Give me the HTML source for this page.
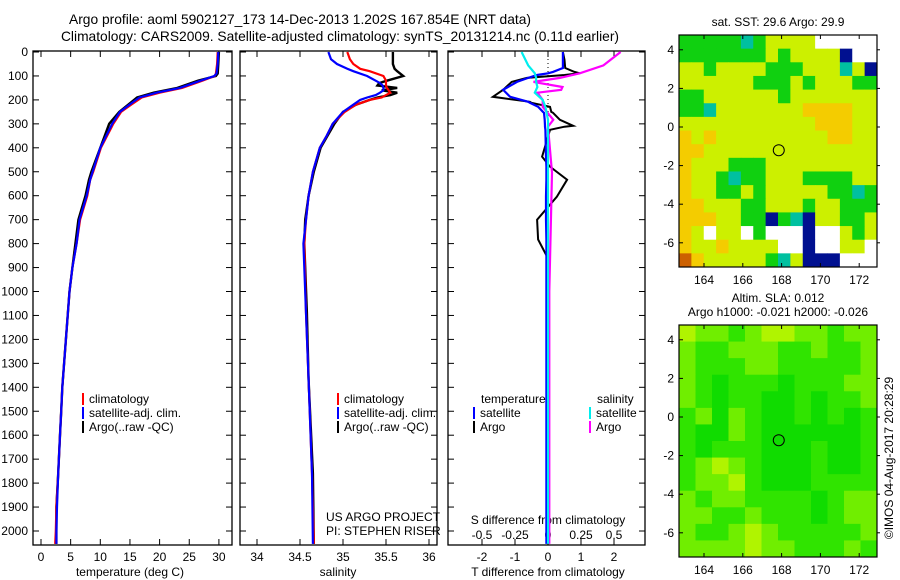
<!DOCTYPE html>
<html><head><meta charset="utf-8"><style>
body{margin:0;background:#fff;width:900px;height:580px;overflow:hidden}
svg{display:block;font-family:"Liberation Sans",sans-serif}
text{font-size:12px;fill:#000}
</style></head><body>
<svg id="chart" width="900" height="580" viewBox="0 0 900 580">
<text x="300" y="24" text-anchor="middle" style="font-size:13.8px">Argo profile: aoml 5902127_173 14-Dec-2013 1.202S 167.854E (NRT data)</text>
<text x="340" y="41" text-anchor="middle" style="font-size:13.8px">Climatology: CARS2009. Satellite-adjusted climatology: synTS_20131214.nc (0.11d earlier)</text>
</svg>
<script>
// ---- profile data ----
const depthT = [0,50,90,100,120,150,170,190,220,250,300,400,500,533,600,700,800,900,1000,1100,1200,1300,1400,1500,1600,1760,1900,2000,2054];
const tempClim = [29.8,29.7,29.5,29.3,27.2,23.8,20.0,17.0,15.2,13.5,12.2,10.1,8.8,8.3,7.8,6.6,6.0,5.3,4.8,4.5,4.2,3.9,3.6,3.4,3.2,2.9,2.6,2.5,2.4];
const tempSat  = [29.9,29.8,29.6,29.2,26.9,23.4,19.5,16.6,14.9,13.3,12.0,10.0,8.7,8.3,7.7,6.5,6.0,5.3,4.8,4.5,4.2,3.9,3.6,3.4,3.2,2.9,2.7,2.6,2.6];
const tempArgo = [30.0,29.9,29.8,29.5,26.5,23.0,19.0,16.2,14.7,13.2,11.5,10.0,8.5,8.1,7.5,6.3,5.8,5.3,4.8,4.5,4.2,3.9,3.6,3.4,3.2,2.9,2.6,2.6,2.6];
const depthS = [0,30,50,70,80,100,120,130,140,150,160,170,180,190,200,220,250,300,350,400,500,600,700,800,1090,1370,1760,2054];
const salClim = [35.05,35.08,35.12,35.2,35.31,35.47,35.5,35.5,35.5,35.51,35.53,35.55,35.5,35.45,35.31,35.15,35.02,34.88,34.81,34.73,34.65,34.6,34.57,34.55,34.57,34.6,34.64,34.66];
const salSat  = [34.83,34.86,34.93,35.05,35.12,35.28,35.38,35.43,35.46,35.47,35.47,35.43,35.38,35.28,35.2,35.12,35.0,34.88,34.81,34.73,34.65,34.6,34.57,34.54,34.57,34.6,34.64,34.65];
const salArgo = [35.58,35.58,35.58,35.6,35.63,35.7,35.51,35.42,35.4,35.63,35.45,35.63,35.55,35.4,35.31,35.15,35.0,34.9,34.82,34.74,34.66,34.6,34.56,34.55,34.58,34.6,34.65,34.66];
const depthTd = [0,33,67,83,89,96,108,125,158,187,208,212,229,250,254,283,308,312,325,437,479,533,604,700,783,854,1000,1500,2054];
const tdiffSat  = [0.45,0.45,0.45,0.15,0.0,-0.33,-0.6,-0.94,-1.36,-1.15,-0.6,-0.55,-0.3,-0.15,-0.12,-0.1,-0.09,-0.09,-0.08,-0.06,-0.05,-0.05,-0.06,-0.06,-0.05,-0.05,-0.05,-0.05,-0.05];
const tdiffArgo = [0.45,0.5,0.52,0.8,0.97,0.5,-0.64,-1.1,-1.36,-1.67,-0.55,-0.5,0.06,0.1,0.15,0.36,0.76,0.5,0.06,-0.18,0.06,0.58,0.27,-0.33,-0.3,-0.03,0.0,0.0,0.0];
const depthSd = [0,56,89,108,125,146,158,170,200,229,283,312,504,1000,2054];
const sdiffSat  = [-0.2,-0.15,-0.1,-0.09,-0.09,-0.08,-0.09,-0.1,-0.04,-0.02,0.0,0.0,0.0,0.0,0.0];
const sdiffArgo = [0.55,0.42,0.24,0.09,-0.11,0.11,0.1,-0.08,-0.04,-0.04,0.04,0.0,0.03,0.01,0.01];
const depthTicks = [0,100,200,300,400,500,600,700,800,900,1000,1100,1200,1300,1400,1500,1600,1700,1800,1900,2000];
const tempTicks = [0,5,10,15,20,25,30];
const salTicks = [34,34.5,35,35.5,36];
const tdTicks = [-2,-1,0,1,2];
const sdTicks = [-0.5,-0.25,0,0.25,0.5];
const sdTickLabels = ['-0.5','-0.25','0','0.25','0.5'];
// ---- map data (colour codes per cell, north to south) ----
const sstRows = [
"gggggGgyyyywwwww","gggggggygyyyybww","yygyyyygggyyyGyb","yyyyyygggygyyygg","ggyyyyyygyyyyyyy",
"ggGyyyyyyyooooyy","yyyyyyyyyyyoooyy","oyoyyyyyyyyyooyy","ooyyyyyyyyyyyyyy","oyyygggyyyyyyyyy",
"oyygGggyyyggggyy","oyyggygyyyyyggGg","ooyyyggyyygyyggg","oooyyggbgGbyyggy","oywyywgwwwbwwygy",
"oyyoyyyywwbwwyyw","royyyyygGybbbwww"];
const slaRows = [
"yllglyyllgll","lgglllgglggl","lgggllgggggl","lgGgggGgggll","lgGggGGgGggl",
"glGlgGGgGgGg","gGGlgGGGGGGg","gGgggGGGgGGg","glylgGGGgGGg","gllygGGGgggg",
"lgllggggGgll","llgglgggGgll","lgglylgggggl","llllyllggglg"];
const lonTicks = [164,166,168,170,172];
const latTicks = [4,2,0,-2,-4,-6];
const argoLon = 167.854, argoLat = -1.202;

const NS='http://www.w3.org/2000/svg';
const svg=document.getElementById('chart');
function mk(tag,attrs,parent){const e=document.createElementNS(NS,tag);for(const k in attrs)e.setAttribute(k,attrs[k]);(parent||svg).appendChild(e);return e;}
function txt(x,y,s,anchor,parent){const t=mk('text',{x:x,y:y,'text-anchor':anchor||'middle'},parent);t.textContent=s;return t;}
const Y0=51,Y1=545;
const yD=d=>52+d*0.2395;
const xT=v=>41+v*5.93;
const xS=v=>257+(v-34)*86;
const xTd=v=>548+v*33;
const xSd=v=>548+v*132;
const panels=[[33,232],[240,437],[448,645]];

function panelFrame(i,name){
  const [a,b]=panels[i];
  const g=mk('g',{});
  
  
  mk('rect',{x:a,y:Y0,width:b-a,height:Y1-Y0,fill:'none',stroke:'#000','stroke-width':1.3},g);
  depthTicks.forEach(d=>{const y=yD(d);
    mk('line',{x1:a,x2:a+6,y1:y,y2:y,stroke:'#000'},g);
    mk('line',{x1:b-6,x2:b,y1:y,y2:y,stroke:'#000'},g);});
  return g;
}
function line(xs,ds,fx,color,name,w){
  const p=xs.map((v,i)=>fx(v).toFixed(1)+','+yD(ds[i]).toFixed(1)).join(' ');
  const e=mk('polyline',{points:p,fill:'none',stroke:color,'stroke-width':w||2.2});
  
  
  return e;
}
// Panel 1
const p1=panelFrame(0,'temperature-panel');
depthTicks.forEach(d=>{const t=txt(28,yD(d)+4,String(d),'end');});
tempTicks.forEach(v=>{const x=xT(v);mk('line',{x1:x,x2:x,y1:Y1,y2:Y1-6,stroke:'#000'},p1);mk('line',{x1:x,x2:x,y1:Y0,y2:Y0+6,stroke:'#000'},p1);txt(x,561,String(v),'middle',p1);});
txt(130,576,'temperature (deg C)','middle',p1);
line(tempArgo,depthT,xT,'#000','temp-argo-line',2.4);
line(tempClim,depthT,xT,'#f00','temp-climatology-line');
line(tempSat,depthT,xT,'#00f','temp-satellite-line');
// Panel 2
const p2=panelFrame(1,'salinity-panel');
salTicks.forEach(v=>{const x=xS(v);mk('line',{x1:x,x2:x,y1:Y1,y2:Y1-6,stroke:'#000'},p2);mk('line',{x1:x,x2:x,y1:Y0,y2:Y0+6,stroke:'#000'},p2);txt(x,561,String(v),'middle',p2);});
txt(338,576,'salinity','middle',p2);
line(salArgo,depthS,xS,'#000','sal-argo-line',2.4);
line(salClim,depthS,xS,'#f00','sal-climatology-line');
line(salSat,depthS,xS,'#00f','sal-satellite-line');
txt(326,521,'US ARGO PROJECT','start',p2);
txt(326,535,'PI: STEPHEN RISER','start',p2);
// Panel 3
const p3=panelFrame(2,'difference-panel');
mk('line',{x1:548,x2:548,y1:Y0,y2:Y1,stroke:'#000','stroke-dasharray':'1,3'},p3);
tdTicks.forEach(v=>{const x=xTd(v);mk('line',{x1:x,x2:x,y1:Y1,y2:Y1-6,stroke:'#000'},p3);mk('line',{x1:x,x2:x,y1:Y0,y2:Y0+6,stroke:'#000'},p3);txt(x,561,String(v),'middle',p3);});
sdTicks.forEach((v,i)=>{txt(xSd(v),539,sdTickLabels[i],'middle',p3);});
txt(548,524,'S difference from climatology','middle',p3);
txt(548,576,'T difference from climatology','middle',p3);
line(tdiffArgo,depthTd,xTd,'#000','tdiff-argo-line',2);
line(sdiffArgo,depthSd,xSd,'#f0f','sdiff-argo-line',2.2);
line(tdiffSat,depthTd,xTd,'#00f','tdiff-satellite-line',2.2);
line(sdiffSat,depthSd,xSd,'#0ee','sdiff-satellite-line',2.2);
// legends
function legend(x,y,color,label,name){const g=mk('g',{});
  mk('rect',{x:x,y:y-10,width:2,height:12,fill:color},g);txt(x+7,y,label,'start',g);}
[[82,'temperature-legend'],[337,'salinity-legend']].forEach(([x,n])=>{
  legend(x,403,'#f00','climatology',n+'-climatology');
  legend(x,417,'#00f','satellite-adj. clim.',n+'-satellite');
  legend(x,431,'#000','Argo(..raw -QC)',n+'-argo');});
txt(481,403,'temperature','start');
txt(597,403,'salinity','start');
legend(473,417,'#00f','satellite','diff-legend-t-satellite');
legend(473,431,'#000','Argo','diff-legend-t-argo');
legend(589,417,'#0ee','satellite','diff-legend-s-satellite');
legend(589,431,'#f0f','Argo','diff-legend-s-argo');

// ---- maps ----
const MX0=679,MX1=877;
const lonX=l=>704+(l-164)*19.4;
const sstCol={g:'#10d010',G:'#00c0a0',y:'#ccf000',o:'#f4cc00',r:'#cc6000',b:'#001090',w:'#ffffff'};
const slaCol={g:'#30e400',G:'#10dc00',l:'#70ee00',y:'#b0f400'};
function map(top,bot,lat0Y,rows,cols,name,titleLines){
  const g=mk('g',{});
  const latY=l=>lat0Y-l*19.3;
  const nr=rows.length,nc=rows[0].length,cw=(MX1-MX0)/nc,ch=(bot-top)/nr;
  rows.forEach((r,i)=>{for(let j=0;j<nc;j++){
    const c=mk('rect',{x:(MX0+j*cw).toFixed(2),y:(top+i*ch).toFixed(2),width:(cw+0.4).toFixed(2),height:(ch+0.4).toFixed(2),fill:cols[r[j]]||'#fff'},g);
    
    }});
  mk('rect',{x:MX0,y:top,width:MX1-MX0,height:bot-top,fill:'none',stroke:'#000','stroke-width':1.2},g);
  lonTicks.forEach(l=>{const x=lonX(l);mk('line',{x1:x,x2:x,y1:top,y2:top+4,stroke:'#000'},g);mk('line',{x1:x,x2:x,y1:bot,y2:bot-4,stroke:'#000'},g);txt(x,bot+17,String(l),'middle',g);});
  latTicks.forEach(l=>{const y=latY(l);mk('line',{x1:MX0,x2:MX0+4,y1:y,y2:y,stroke:'#000'},g);mk('line',{x1:MX1,x2:MX1+3,y1:y,y2:y,stroke:'#000'},g);txt(674,y+4,String(l),'end',g);});
  const c=mk('circle',{cx:lonX(argoLon),cy:latY(argoLat),r:5.5,fill:'none',stroke:'#000','stroke-width':1},g);
  
  
  titleLines.forEach(([s,y])=>txt(778,y,s,'middle',g));
}
map(35,267,127,sstRows,sstCol,'sst-map',[['sat. SST: 29.6 Argo: 29.9',26]]);
map(325,557,417,slaRows,slaCol,'sla-map',[['Altim. SLA: 0.012',302],['Argo h1000: -0.021 h2000: -0.026',316]]);
const cr=txt(0,0,'©IMOS 04-Aug-2017 20:28:29','middle');
cr.setAttribute('transform','translate(893,458) rotate(-90)');


</script>
</body></html>
